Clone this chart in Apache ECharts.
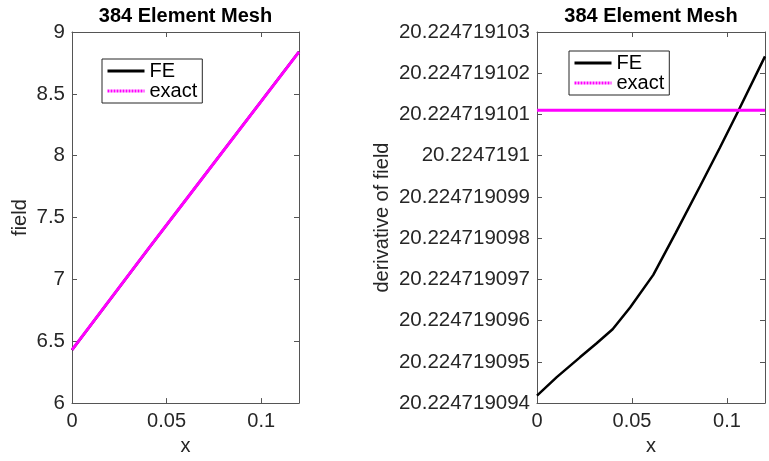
<!DOCTYPE html>
<html>
<head>
<meta charset="utf-8">
<script src="https://cdn.jsdelivr.net/npm/echarts@6/dist/echarts.min.js"></script>
<style>html,body{margin:0;padding:0;background:#fff}#c{width:769px;height:461px}</style>
</head>
<body>
<div id="c"></div>
<script>
// ---- data ----
const titleText = '384 Element Mesh';
const legendNames = ['FE', 'exact'];
// left plot: field
const fieldX = [0, 0.04, 0.06, 0.12];
const fieldFE = [6.43, 7.24, 7.64, 8.84];
const fieldExact = [6.43, 7.24, 7.64, 8.84];
// right plot: derivative of field
const derivX = [0, 0.0104, 0.0226, 0.0314, 0.0398, 0.049, 0.0612, 0.073, 0.0858, 0.0963, 0.106, 0.12];
const derivFE = [20.22471909418, 20.22471909463, 20.22471909511, 20.22471909545, 20.22471909579,
                 20.22471909632, 20.22471909711, 20.22471909813, 20.22471909926, 20.22471910020,
                 20.22471910109, 20.22471910241];
const derivExactX = [0, 0.12];
const derivExact = [20.2247191011, 20.2247191011];
const xTicks = { min: 0, max: 0.12, interval: 0.05 };
const fieldTicks = { min: 6, max: 9, interval: 0.5 };
const derivTicks = { min: 20.224719094, max: 20.224719103, interval: 1e-9 };

const FONT = "'Liberation Sans', Arial, Helvetica, sans-serif";
const TXT = '#262626';
const LINE = '#555555';
const zip = (xs, ys) => xs.map((x, i) => [x, ys[i]]);

function xAx(grid, pos, show) {
  return {
    type: 'value', gridIndex: grid, position: pos,
    min: xTicks.min, max: xTicks.max, interval: xTicks.interval,
    name: show ? 'x' : '', nameLocation: 'middle', nameGap: 27,
    nameTextStyle: { fontFamily: FONT, fontSize: 20, color: TXT },
    axisLine: { show: true, onZero: false, lineStyle: { color: LINE, width: 1 } },
    axisTick: { show: true, inside: true, length: 5, lineStyle: { color: LINE } },
    axisLabel: { show: show, margin: 8, fontFamily: FONT, fontSize: 20, color: TXT, showMaxLabel: false,
      formatter: v => String(parseFloat(v.toFixed(6))) },
    splitLine: { show: false }
  };
}
function yAx(grid, pos, show, t, name, gap, fmt) {
  return {
    type: 'value', gridIndex: grid, position: pos,
    min: t.min, max: t.max, interval: t.interval,
    name: show ? name : '', nameLocation: 'middle', nameGap: gap,
    nameTextStyle: { fontFamily: FONT, fontSize: 20, color: TXT },
    axisLine: { show: true, onZero: false, lineStyle: { color: LINE, width: 1 } },
    axisTick: { show: true, inside: true, length: 5, lineStyle: { color: LINE } },
    axisLabel: { show: show, margin: 7, fontFamily: FONT, fontSize: 20.5, color: TXT, formatter: fmt },
    splitLine: { show: false }
  };
}
function legend(left, top) {
  return {
    left: left, top: top, orient: 'vertical',
    data: [
      { name: legendNames[0], lineStyle: { width: 3, color: '#000' } },
      { name: legendNames[1], lineStyle: { width: 3, color: '#ff00ff', type: [2, 1] } }
    ],
    itemWidth: 37, itemHeight: 20, itemGap: 0, itemTextGap: 5,
    padding: [2, 5, 2, 4],
    itemStyle: { opacity: 0, borderWidth: 0 },
    borderColor: '#262626', borderWidth: 1, backgroundColor: '#fff',
    textStyle: { fontFamily: FONT, fontSize: 20, color: '#000' },
    selectedMode: false
  };
}

const chart = echarts.init(document.getElementById('c'), null, { renderer: 'canvas' });
chart.setOption({
  animation: false,
  backgroundColor: '#fff',
  title: [
    { text: titleText, left: 185.5, textAlign: 'center', top: 6, padding: 0,
      textStyle: { fontFamily: FONT, fontSize: 20, fontWeight: 'bold', color: '#000' } },
    { text: titleText, left: 651, textAlign: 'center', top: 6, padding: 0,
      textStyle: { fontFamily: FONT, fontSize: 20, fontWeight: 'bold', color: '#000' } }
  ],
  legend: [legend(102, 59), legend(569, 51)],
  grid: [
    { left: 72, top: 32, width: 227, height: 379 },
    { left: 537, top: 32, width: 228, height: 379 }
  ],
  xAxis: [xAx(0, 'bottom', true), xAx(0, 'top', false), xAx(1, 'bottom', true), xAx(1, 'top', false)],
  yAxis: [
    yAx(0, 'left', true, fieldTicks, 'field', 42, v => String(parseFloat(v.toFixed(6)))),
    yAx(0, 'right', false, fieldTicks, '', 0),
    yAx(1, 'left', true, derivTicks, 'derivative of field', 145, v => String(parseFloat(v.toFixed(9)))),
    yAx(1, 'right', false, derivTicks, '', 0)
  ],
  series: [
    { name: 'FE', type: 'line', xAxisIndex: 0, yAxisIndex: 0, data: zip(fieldX, fieldFE),
      symbol: 'none', lineStyle: { color: '#000', width: 2.5 }, itemStyle: { color: '#000' }, z: 2 },
    { name: 'exact', type: 'line', xAxisIndex: 0, yAxisIndex: 0, data: zip(fieldX, fieldExact),
      symbol: 'none', lineStyle: { color: '#ff00ff', width: 3 }, itemStyle: { color: '#ff00ff' }, z: 3 },
    { name: 'FE', type: 'line', xAxisIndex: 2, yAxisIndex: 2, data: zip(derivX, derivFE),
      symbol: 'none', lineStyle: { color: '#000', width: 2.5 }, itemStyle: { color: '#000' }, z: 2 },
    { name: 'exact', type: 'line', xAxisIndex: 2, yAxisIndex: 2, data: zip(derivExactX, derivExact),
      symbol: 'none', lineStyle: { color: '#ff00ff', width: 3 }, itemStyle: { color: '#ff00ff' }, z: 3 }
  ]
});
</script>
</body>
</html>
